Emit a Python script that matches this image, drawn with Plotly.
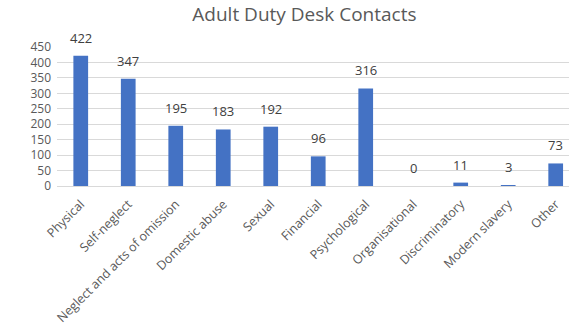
import plotly.graph_objects as go

categories = ["Physical", "Self-neglect", "Neglect and acts of omission", "Domestic abuse",
              "Sexual", "Financial", "Psychological", "Organisational", "Discriminatory",
              "Modern slavery", "Other"]
values = [422, 347, 195, 183, 192, 96, 316, 0, 11, 3, 73]
y_ticks = [0, 50, 100, 150, 200, 250, 300, 350, 400, 450]

fig = go.Figure(go.Bar(
    x=categories, y=values,
    marker=dict(color="#4472C4", line=dict(width=0)), width=0.31, cliponaxis=False,
))

for c, v in zip(categories, values):
    fig.add_annotation(x=c, y=v, text=str(v), showarrow=False, yanchor="bottom",
                       yshift=7, font=dict(size=13, color="#404040", family="Open Sans"))

fig.update_layout(
    width=569, height=328,
    margin=dict(l=57, r=0, t=47, b=142),
    paper_bgcolor="white", plot_bgcolor="white",
    title=dict(text="Adult Duty Desk Contacts", x=0.535, xanchor="center", y=0.955, yanchor="middle",
               font=dict(size=19, color="#595959", family="Open Sans")),
    showlegend=False,
    font=dict(family="Open Sans", color="#595959"),
)
fig.update_xaxes(range=[-0.5, 10.28], tickangle=-45, tickfont=dict(size=12.5, color="#595959"),
                 showgrid=False, showline=True, linecolor="#d9d9d9", ticks="", ticklabelstandoff=5,
                 automargin=False)
fig.update_yaxes(range=[0, 450], tickvals=y_ticks, tickfont=dict(size=12, color="#595959"),
                 showgrid=True, gridcolor="#d9d9d9", zeroline=False, ticks="", ticklabelstandoff=5,
                 automargin=False)

fig.write_html("out.html")
